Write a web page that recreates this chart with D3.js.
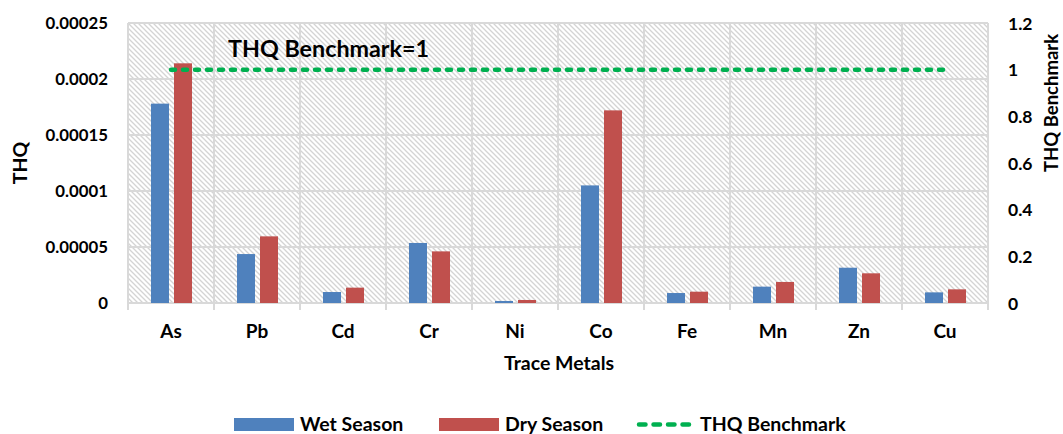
<!DOCTYPE html>
<html>
<head>
<meta charset="utf-8">
<script src="https://cdn.jsdelivr.net/npm/d3@7"></script>
<style>
  html, body { margin: 0; padding: 0; background: #fff; }
  svg { display: block; font-family: Lato, "Open Sans", sans-serif; font-weight: 700; }
</style>
</head>
<body>
<svg id="chart" width="1063" height="434"></svg>
<script>
// Trace metals and their hazard quotients per season
const metals = ["As", "Pb", "Cd", "Cr", "Ni", "Co", "Fe", "Mn", "Zn", "Cu"];
const wetSeason = [0.000178, 0.0000437, 0.0000098, 0.0000536, 0.0000018, 0.000105, 0.0000089, 0.0000146, 0.0000315, 0.0000095];
const drySeason = [0.000214, 0.0000595, 0.0000137, 0.0000461, 0.0000027, 0.000172, 0.0000101, 0.0000188, 0.0000265, 0.0000122];
const benchmark = [1, 1, 1, 1, 1, 1, 1, 1, 1, 1];
const leftTicks = [0, 0.00005, 0.0001, 0.00015, 0.0002, 0.00025];
const leftTickLabels = ["0", "0.00005", "0.0001", "0.00015", "0.0002", "0.00025"];
const rightTicks = [0, 0.2, 0.4, 0.6, 0.8, 1, 1.2];
const seriesNames = ["Wet Season", "Dry Season"];
const seriesColors = ["#4f81bd", "#c0504d"];
const benchColor = "#00b050";

const svg = d3.select("#chart");
const plot = { left: 128, right: 988, top: 23, bottom: 303 };

const x0 = d3.scaleBand().domain(metals).range([plot.left, plot.right]).paddingInner(0).paddingOuter(0);
const x1 = d3.scaleBand().domain(seriesNames).range([23, 64]).paddingInner(0.217).paddingOuter(0);
const yL = d3.scaleLinear().domain([0, 0.00025]).range([plot.bottom, plot.top]);
const yR = d3.scaleLinear().domain([0, 1.2]).range([plot.bottom, plot.top]);

// Diagonal hatch fill for the plot area
const defs = svg.append("defs");
const pat = defs.append("pattern")
  .attr("id", "hatch").attr("patternUnits", "userSpaceOnUse")
  .attr("width", 5).attr("height", 5);
pat.append("rect").attr("width", 5).attr("height", 5).attr("fill", "#fff");
pat.append("path")
  .attr("d", "M-1,-1 L6,6 M-1,4 L1,6 M4,-1 L6,1")
  .attr("stroke", "#d4d4d4").attr("stroke-width", 1.3);

svg.append("rect")
  .attr("x", plot.left).attr("y", plot.top)
  .attr("width", plot.right - plot.left).attr("height", plot.bottom - plot.top)
  .attr("fill", "url(#hatch)");

// Gridlines
const grid = svg.append("g").attr("stroke", "#d9d9d9").attr("stroke-width", 2);
grid.selectAll("line.h").data(leftTicks).join("line")
  .attr("x1", plot.left).attr("x2", plot.right)
  .attr("y1", d => yL(d)).attr("y2", d => yL(d));
const bounds = metals.map(m => x0(m)).concat([plot.right]);
grid.selectAll("line.v").data(bounds).join("line")
  .attr("x1", d => d).attr("x2", d => d)
  .attr("y1", plot.top).attr("y2", plot.bottom + 7);

// Bars
const groups = svg.append("g").selectAll("g").data(metals).join("g")
  .attr("transform", d => `translate(${x0(d)},0)`);
groups.selectAll("rect")
  .data((d, i) => [
    { s: seriesNames[0], v: wetSeason[i], c: seriesColors[0] },
    { s: seriesNames[1], v: drySeason[i], c: seriesColors[1] }
  ])
  .join("rect")
  .attr("x", d => x1(d.s)).attr("width", x1.bandwidth())
  .attr("y", d => yL(d.v)).attr("height", d => yL(0) - yL(d.v))
  .attr("fill", d => d.c);

// Benchmark line on the secondary axis
const line = d3.line()
  .x((d, i) => x0(metals[i]) + x0.bandwidth() / 2)
  .y(d => yR(d));
svg.append("path").datum(benchmark)
  .attr("d", line).attr("fill", "none")
  .attr("stroke", benchColor).attr("stroke-width", 4.5)
  .attr("stroke-dasharray", "4,8").attr("stroke-linecap", "round");

svg.append("text")
  .attr("x", 228).attr("y", 57)
  .attr("font-size", 23.3).attr("fill", "#000")
  .text("THQ Benchmark=1");

// Axes
const leftAxis = d3.axisLeft(yL).tickValues(leftTicks)
  .tickFormat((d, i) => leftTickLabels[i]).tickSize(0).tickPadding(0);
const gL = svg.append("g").attr("transform", `translate(108,0)`).call(leftAxis);
gL.select(".domain").remove();
gL.selectAll("text").attr("font-size", 16.8).attr("font-family", "Lato, sans-serif")
  .attr("font-weight", 700).attr("fill", "#000").attr("dy", "0.35em");

const rightAxis = d3.axisRight(yR).tickValues(rightTicks)
  .tickFormat(d3.format("~g")).tickSize(0).tickPadding(0);
const gR = svg.append("g").attr("transform", `translate(1008,0)`).call(rightAxis);
gR.select(".domain").remove();
gR.selectAll("text").attr("font-size", 17.5).attr("font-family", "Lato, sans-serif")
  .attr("font-weight", 700).attr("fill", "#000").attr("dy", "0.35em");

const bottomAxis = d3.axisBottom(x0).tickSize(0).tickPadding(0);
const gB = svg.append("g").attr("transform", `translate(0,331)`).call(bottomAxis);
gB.select(".domain").remove();
gB.selectAll("text").attr("font-size", 19).attr("font-family", "Lato, sans-serif")
  .attr("font-weight", 700).attr("fill", "#000").attr("dy", "0.35em");

// Axis titles
svg.append("text").attr("x", 559).attr("y", 370)
  .attr("text-anchor", "middle").attr("font-size", 19.5).text("Trace Metals");
svg.append("text").attr("transform", "translate(27,163) rotate(-90)")
  .attr("text-anchor", "middle").attr("font-size", 19.5).text("THQ");
svg.append("text").attr("transform", "translate(1058,103) rotate(-90)")
  .attr("text-anchor", "middle").attr("font-size", 18.5).text("THQ Benchmark");

// Legend
const legend = svg.append("g");
const legendItems = [
  { name: seriesNames[0], color: seriesColors[0], x: 234, type: "bar" },
  { name: seriesNames[1], color: seriesColors[1], x: 439, type: "bar" },
  { name: "THQ Benchmark", color: benchColor, x: 639, type: "line" }
];
legendItems.forEach(it => {
  if (it.type === "bar") {
    legend.append("rect").attr("x", it.x).attr("y", 418)
      .attr("width", 60).attr("height", 13).attr("fill", it.color);
    legend.append("text").attr("x", it.x + 66).attr("y", 431)
      .attr("font-size", 19.5).text(it.name);
  } else {
    legend.append("line").attr("x1", it.x).attr("x2", it.x + 56)
      .attr("y1", 424.5).attr("y2", 424.5)
      .attr("stroke", it.color).attr("stroke-width", 4.5)
      .attr("stroke-dasharray", "6.5,8").attr("stroke-linecap", "round");
    legend.append("text").attr("x", it.x + 61).attr("y", 431)
      .attr("font-size", 19.5).text(it.name);
  }
});
</script>
</body>
</html>
